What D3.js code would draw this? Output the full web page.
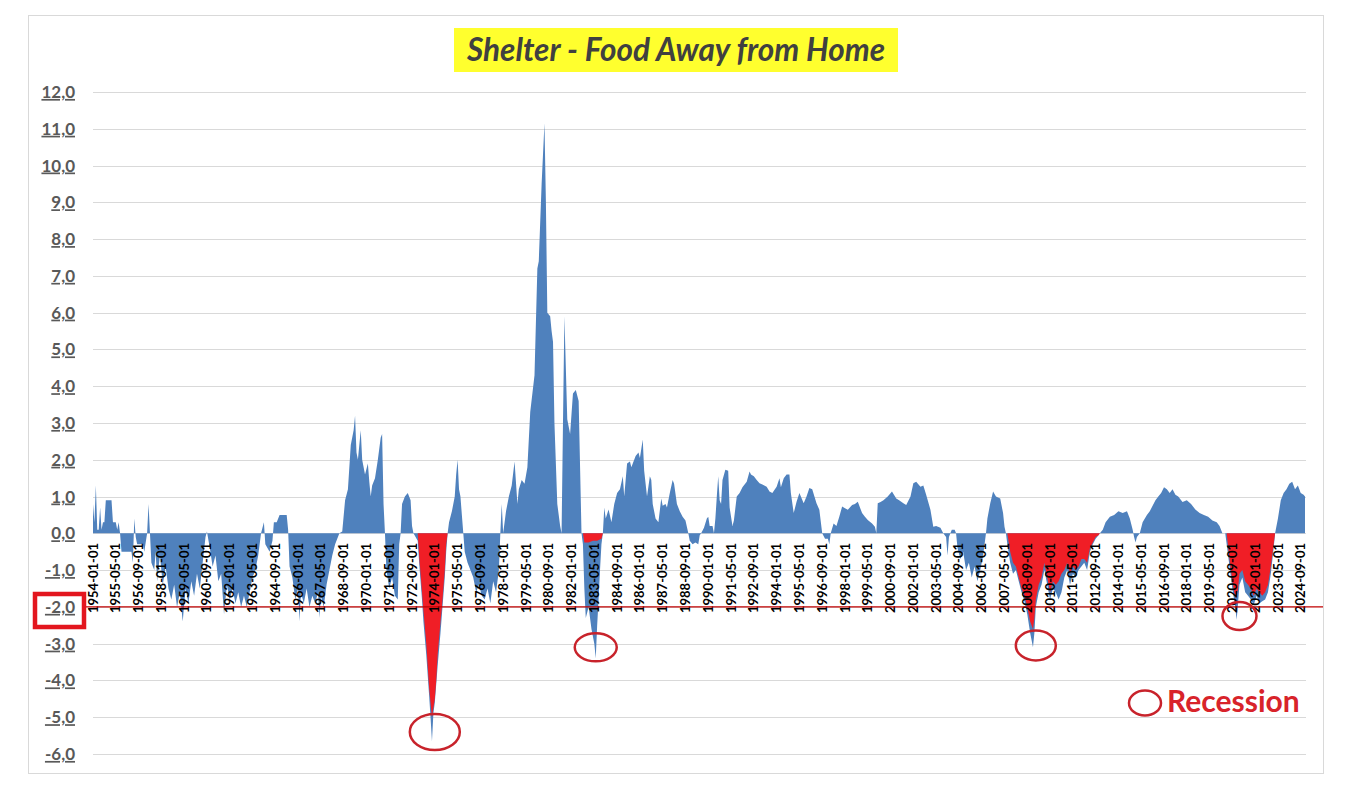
<!DOCTYPE html>
<html>
<head>
<meta charset="utf-8">
<script src="https://cdn.jsdelivr.net/npm/d3@7"></script>
<style>
body { margin: 0; background: #fff; }
svg text { font-family: Lato, "Open Sans", sans-serif; }
</style>
</head>
<body>
<svg id="chart" width="1368" height="792"></svg>
<script>
// monthly spread: [months after 1954-01, value]
var spread = [
  [0,0.8],[1,0.3],[2,1.3],[3,0.1],[4,0.1],[5,0.7],[6,0.1],[7,0.3],[8,0.3],[9,0.9],[12,0.9],[13,0.9],[14,0.3],[16,0.3],[17,0.1],[18,0.3],[19,0],
  [20,-0.5],[27,-0.5],[28,-0.8],[29,0.4],[30,-0.1],[31,-0.3],[35,-0.3],[36,-0.5],[38,0],[39,0.8],[40,0],[41,-0.8],[43,-1.0],[44,-0.5],[45,-1.3],
  [47,-0.6],[49,-1.4],[51,-0.9],[53,-1.5],[55,-1.8],[57,-1.4],[59,-2.0],[61,-1.6],[63,-2.4],[65,-1.5],[67,-1.9],[69,-1.3],[71,-1.7],[73,-1.1],
  [75,-1.5],[77,-0.8],[79,-0.1],[80,0.05],[82,-0.4],[84,-0.9],[86,-0.6],[88,-1.3],[90,-1.1],[92,-2.2],[94,-1.4],[96,-1.8],[98,-1.5],[100,-1.9],
  [102,-1.6],[104,-2.0],[106,-1.7],[108,-2.0],[110,-1.6],[112,-1.2],[114,-1.0],[116,-0.6],[118,0],[120,0.3],[121,-0.3],[124,-0.5],[126,-0.2],
  [127,0.3],[129,0.3],[131,0.5],[136,0.5],[137,0.1],[138,-0.9],[140,-1.2],[142,-1.8],[144,-1.5],[145,-2.4],[146,-1.6],[148,-1.9],[150,-1.5],
  [152,-2.0],[154,-1.7],[156,-1.9],[158,-1.6],[159,-2.3],[160,-1.7],[162,-2.0],[164,-1.4],[166,-1.0],[168,-0.6],[170,-0.3],[173,0],[175,0.05],
  [177,0.9],[179,1.2],[181,2.4],[183,2.8],[184,3.2],[185,2.2],[186,2.0],[188,2.8],[189,2.0],[191,1.6],[193,1.9],[194,1.4],[195,1.0],[196,1.3],
  [198,1.5],[200,2.0],[202,2.6],[203,2.7],[204,0.8],[205,0],[206,-1.0],[208,-1.5],[210,-1.2],[212,-1.7],[214,-1.8],[215,-0.3],[216,0],[217,0.8],
  [219,1.0],[221,1.1],[223,0.9],[224,0.2],[225,0],[228,-0.2],[229,-0.8],[231,-1.8],[232,-2.4],[234,-3.3],[236,-4.4],[237,-5.0],[238,-5.65],
  [239,-4.9],[240,-4.6],[242,-3.6],[244,-2.7],[245,-2.2],[247,-1.2],[248,-0.5],[249,0],[250,0.3],[252,0.6],[254,1.0],[255,1.6],[256,2.0],[257,1.2],
  [258,1.0],[259,0.5],
  [260,0],[261,-0.5],[263,-0.8],[265,-1.0],[267,-1.2],[269,-1.6],[271,-1.4],[273,-1.7],[275,-1.8],[277,-1.5],[279,-1.9],[281,-1.3],[283,-1.6],
  [285,-1.0],[286,0],[287,0.8],[288,0],[290,0.6],[292,1.0],[294,1.3],[296,1.95],[298,0.8],[299,1.2],[301,1.45],[303,1.35],[305,1.8],[307,3.3],
  [310,4.3],[312,7.2],[313,7.4],[315,9.5],[317,11.15],[318,9.0],[319,6.0],[321,5.9],[322,5.5],[323,5.2],[324,3.0],[326,0.8],[328,0.2],[329,0],
  [330,3.0],[331,5.9],[333,3.1],[335,2.7],[337,3.8],[339,3.9],[341,3.6],[342,1.8],[343,0],[344,-0.3],[345,-1.5],[346,-2.3],[348,-2.0],[350,-2.6],
  [352,-3.0],[353,-3.4],[354,-2.5],[355,-1.8],[356,-1.0],[357,-0.3],[358,0],[359,0.7],[360,0.4],[362,0.65],[364,0.3],[366,0.8],[368,1.1],[370,1.2],
  [372,1.55],[373,1.0],[375,1.9],[377,1.95],[378,1.8],[379,1.9],[381,2.1],[383,2.2],[384,2.05],[385,2.3],[386,2.55],[387,1.7],[389,1.0],[391,1.55],
  [392,1.45],[393,0.8],[395,0.4],[397,0.3],[399,0.95],[400,0.75],[402,0.8],[403,0.7],[405,1.1],[407,1.45],[408,1.35],[410,0.8],[412,0.6],[414,0.45],
  [416,0.35],[418,0],[419,-0.2],[421,-0.3],[423,-0.25],[425,-0.3],[426,-0.05],[427,0],[429,0.15],[431,0.4],[432,0.45],[433,0.2],[435,0.2],[436,0],
  [437,0.4],[438,1.0],[439,1.55],[440,0.9],[441,0.8],[442,1.45],[444,1.73],[446,1.7],[447,0.7],[449,0.2],[450,0.35],[452,1.0],[454,1.1],[456,1.25],
  [459,1.4],[461,1.68],[462,1.6],[464,1.55],[466,1.45],[468,1.36],[470,1.33],[473,1.27],[475,1.14],[477,1.1],[480,1.27],[482,1.5],[483,1.25],
  [485,1.5],[487,1.6],[489,1.6],[490,1.1],[492,0.55],[494,0.86],[496,1.1],[499,0.82],[501,1.0],[503,1.23],[505,1.2],[508,0.82],[510,0.64],[512,0],
  [514,-0.15],[516,-0.15],[517,-0.3],[518,0],[520,0.27],[522,0.2],[524,0.45],[526,0.73],[528,0.68],[530,0.64],[533,0.77],[535,0.8],[537,0.86],
  [540,0.55],[542,0.45],[544,0.36],[547,0.27],[549,0.18],[550,0],[551,0.82],[553,0.85],[555,0.9],[558,1.0],[561,1.14],[564,0.95],[566,0.9],
  [569,0.82],[571,0.77],[574,1.0],[576,1.36],[578,1.4],[581,1.27],[583,1.3],[585,1.05],[588,0.64],[590,0.18],[592,0.2],[595,0.15],[597,0],
  [599,-0.1],[600,-0.6],[601,-0.1],[602,0],[603,0.1],[605,0.1],[606,0],[607,-0.4],[609,-0.7],[611,-0.5],[613,-1.0],[615,-0.8],[617,-1.2],[619,-0.9],
  [621,-1.3],[623,-1.0],[625,-0.6],[627,0],[628,0.4],[630,0.82],[632,1.14],[634,1.0],[637,0.95],[639,0.55],[640,0.18],[641,0],
  [642,-0.3],[644,-0.8],[646,-1.1],[648,-1.0],[650,-1.3],[652,-1.6],[654,-1.85],[656,-2.2],[658,-2.7],[660,-3.1],[661,-2.7],[662,-2.0],[664,-1.6],
  [666,-1.4],[668,-1.0],[670,-1.4],[672,-1.8],[674,-1.5],[676,-1.6],[678,-1.8],[680,-1.6],[682,-1.2],[684,-1.0],[686,-1.4],[688,-1.1],[690,-1.2],
  [692,-1.0],[694,-0.9],[696,-0.8],[698,-1.0],[700,-0.5],[702,-0.3],[704,-0.15],[706,-0.05],[707,0],[709,0.1],[711,0.3],[714,0.45],[717,0.5],
  [720,0.6],[723,0.55],[726,0.6],[728,0.4],[730,0.1],[731,-0.1],[732,-0.25],[733,-0.1],[735,0],[737,0.3],[740,0.5],[742,0.6],[744,0.75],[746,0.9],
  [748,1.0],[750,1.1],[752,1.25],[754,1.2],[756,1.1],[758,1.2],[760,1.05],[762,1.0],[765,0.85],[768,0.9],[771,0.8],[774,0.65],[777,0.55],[780,0.5],
  [783,0.45],[786,0.35],[789,0.3],[791,0.2],[793,0],[795,0],[796,-0.3],[798,-0.9],[800,-1.5],[802,-2.0],[803,-2.35],[804,-1.9],[805,-1.4],[807,-1.2],
  [809,-1.6],[811,-1.7],[813,-1.8],[815,-1.95],[817,-1.7],[819,-1.9],[821,-1.85],[823,-1.8],[825,-1.6],[827,-1.1],[829,-0.4],[830,0],[832,0.4],
  [834,0.9],[836,1.1],[838,1.2],[840,1.35],[842,1.4],[844,1.2],[846,1.3],[848,1.1],[850,1.05],[851,1.0]
];

// recession series (red), same month offsets
var recession1973 = [[228,0],[229,-0.6],[231,-1.6],[232,-2.1],[234,-3.0],[236,-4.2],[238,-5.0],[240,-4.5],[241,-4.0],[242,-3.3],[244,-2.4],
  [245,-2.0],[247,-1.0],[248,-0.3],[249,0]];
var recession1983 = [[344,0],[345,-0.25],[348,-0.25],[351,-0.2],[354,-0.2],[357,-0.15],[358,0]];
var recession2008 = [[642,0],[644,-0.5],[646,-0.8],[648,-0.9],[650,-1.2],[652,-1.5],[654,-1.7],[656,-2.0],[658,-2.4],[660,-2.6],[661,-2.3],[662,-1.8],
  [664,-1.4],[666,-1.2],[668,-0.8],[670,-1.2],[672,-1.6],[674,-1.3],[676,-1.4],[678,-1.3],[680,-1.1],[682,-1.0],[684,-0.8],[686,-1.1],[688,-0.9],
  [690,-1.0],[692,-0.9],[694,-0.7],[696,-0.7],[698,-0.8],[700,-0.4],[702,-0.25],[704,-0.1],[706,-0.05],[707,0]];
var recession2020 = [[796,0],[798,-0.7],[800,-1.3],[802,-1.75],[803,-1.7],[804,-1.5],[805,-1.1],[807,-1.0],[809,-1.3],[811,-1.4],[813,-1.5],
  [815,-1.7],[817,-1.5],[819,-1.6],[821,-1.7],[823,-1.6],[825,-1.4],[827,-0.9],[829,-0.3],[830,0]];

// circled lows: [month offset, value, rx, ry]
var circled = [[240,-5.4,25,18],[353,-3.1,21,14],[662,-3.05,20,15],[805,-2.25,17,14]];

var xLabels = ["1954-01-01","1955-05-01","1956-09-01","1958-01-01","1959-05-01","1960-09-01","1962-01-01","1963-05-01","1964-09-01",
  "1966-01-01","1967-05-01","1968-09-01","1970-01-01","1971-05-01","1972-09-01","1974-01-01","1975-05-01","1976-09-01","1978-01-01",
  "1979-05-01","1980-09-01","1982-01-01","1983-05-01","1984-09-01","1986-01-01","1987-05-01","1988-09-01","1990-01-01","1991-05-01",
  "1992-09-01","1994-01-01","1995-05-01","1996-09-01","1998-01-01","1999-05-01","2000-09-01","2002-01-01","2003-05-01","2004-09-01",
  "2006-01-01","2007-05-01","2008-09-01","2010-01-01","2011-05-01","2012-09-01","2014-01-01","2015-05-01","2016-09-01","2018-01-01",
  "2019-05-01","2020-09-01","2022-01-01","2023-05-01","2024-09-01"];
var yTicks = [-6,-5,-4,-3,-2,-1,0,1,2,3,4,5,6,7,8,9,10,11,12];
var threshold = -2;

var svg = d3.select("#chart");

function monthOffset(label){
  var p = label.split("-");
  return (+p[0] - 1954) * 12 + (+p[1] - 1);
}

var x = d3.scaleLinear().domain([0, 851]).range([93, 1305]);
var y = d3.scaleLinear().domain([-6, 12]).range([754, 92]);

// frame
svg.append("rect")
  .attr("x", 28.5).attr("y", 15.5)
  .attr("width", 1295).attr("height", 758)
  .attr("fill", "none")
  .attr("stroke", "#d9d9d9");

// grid
svg.append("g").selectAll("line")
  .data(yTicks)
  .enter().append("line")
  .attr("x1", 93).attr("x2", 1306)
  .attr("y1", function(d){ return Math.round(y(d)) + 0.5; })
  .attr("y2", function(d){ return Math.round(y(d)) + 0.5; })
  .attr("stroke", "#d9d9d9")
  .attr("stroke-width", 1);

var area = d3.area()
  .x(function(d){ return x(d[0]); })
  .y0(y(0))
  .y1(function(d){ return y(d[1]); });

svg.append("path")
  .datum(spread)
  .attr("d", area)
  .attr("fill", "#4f81bd");

svg.append("g").selectAll("path")
  .data([recession1973, recession1983, recession2008, recession2020])
  .enter().append("path")
  .attr("d", area)
  .attr("fill", "#f01e26");

// y labels
svg.append("g").selectAll("text")
  .data(yTicks)
  .enter().append("text")
  .attr("x", 75)
  .attr("y", function(d){ return y(d); })
  .attr("dy", "0.35em")
  .attr("text-anchor", "end")
  .attr("font-size", 17)
  .attr("font-weight", "bold")
  .attr("fill", "#595959")
  .style("text-decoration", "underline")
  .text(function(d){ return d3.format(".1f")(d).replace(".", ",").replace("−", "-"); });

// x labels
svg.append("g").selectAll("text")
  .data(xLabels)
  .enter().append("text")
  .attr("transform", function(d){ return "translate(" + x(monthOffset(d)) + ",543) rotate(-90)"; })
  .attr("dy", "0.35em")
  .attr("text-anchor", "end")
  .attr("font-size", 13)
  .attr("font-weight", "bold")
  .attr("fill", "#000")
  .text(function(d){ return d; });

// -2 threshold line and box
svg.append("line")
  .attr("x1", 85).attr("x2", 1323)
  .attr("y1", y(threshold)).attr("y2", y(threshold))
  .attr("stroke", "#c00000")
  .attr("stroke-width", 1.2);

svg.append("rect")
  .attr("x", 35).attr("y", 594)
  .attr("width", 49).attr("height", 33)
  .attr("fill", "none")
  .attr("stroke", "#e3161e")
  .attr("stroke-width", 4.5);

// circles on the lows
svg.append("g").selectAll("ellipse")
  .data(circled)
  .enter().append("ellipse")
  .attr("cx", function(d){ return x(d[0]); })
  .attr("cy", function(d){ return y(d[1]); })
  .attr("rx", function(d){ return d[2]; })
  .attr("ry", function(d){ return d[3]; })
  .attr("fill", "none")
  .attr("stroke", "#c8232b")
  .attr("stroke-width", 2.5);

// legend
svg.append("ellipse")
  .attr("cx", 1145).attr("cy", 703)
  .attr("rx", 16).attr("ry", 12.5)
  .attr("fill", "none")
  .attr("stroke", "#c8232b")
  .attr("stroke-width", 2.5);
svg.append("text")
  .attr("x", 1167).attr("y", 712)
  .attr("font-size", 30)
  .attr("font-weight", "bold")
  .attr("fill", "#d8232a")
  .text("Recession");

// title
svg.append("rect")
  .attr("x", 454).attr("y", 28)
  .attr("width", 444).attr("height", 44)
  .attr("fill", "#ffff2e");
svg.append("text")
  .attr("x", 676).attr("y", 61)
  .attr("text-anchor", "middle")
  .attr("font-size", 31.5)
  .attr("font-weight", "bold")
  .attr("font-style", "italic")
  .attr("fill", "#404040")
  .text("Shelter - Food Away from Home");
</script>
</body>
</html>
